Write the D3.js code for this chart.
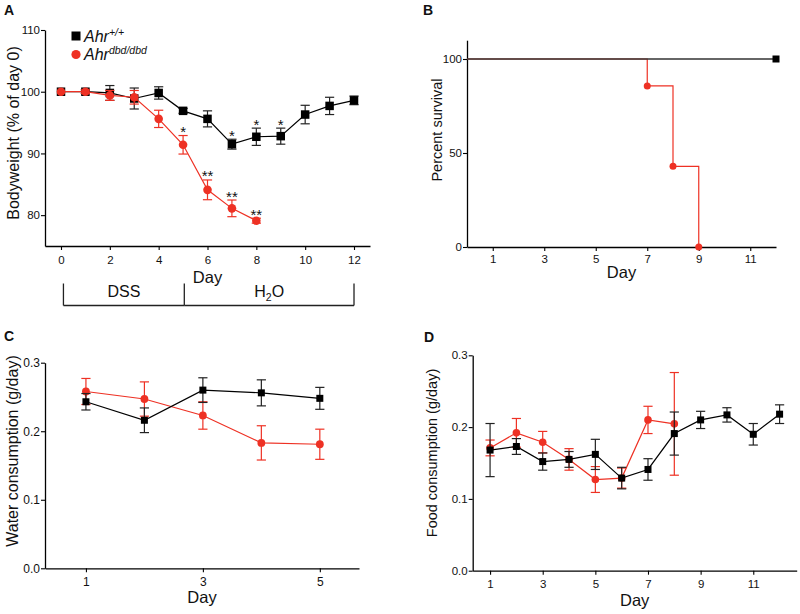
<!DOCTYPE html>
<html>
<head>
<meta charset="utf-8">
<script src="https://cdn.jsdelivr.net/npm/d3@7"></script>
<style>
  html, body { margin: 0; padding: 0; background: #fff; }
  svg { display: block; font-family: "Liberation Sans", Arial, Helvetica, sans-serif; }
</style>
</head>
<body>
<svg id="chart" width="800" height="614"></svg>
<script>
// ---------------- DATA ----------------
// Panel A: bodyweight (% of day 0)
const daysWT_A = [0,1,2,3,4,5,6,7,8,9,10,11,12];
const bwWT     = [100,100,99.8,98.9,99.8,96.9,95.6,91.5,92.7,92.8,96.3,97.7,98.6];
const bwWTerr  = [0.2,0.3,1.2,1.7,1.0,0.4,1.3,0.8,1.4,1.3,1.5,1.4,0.7];
const daysKO_A = [0,1,2,3,4,5,6,7,8];
const bwKO     = [100,100,99.4,99.1,95.6,91.4,84.1,81.1,79.1];
const bwKOerr  = [0.2,0.3,0.8,1.1,1.4,1.5,1.6,1.35,0.4];
const starsA = [
  {series: "KO", day: 5, label: "*"},
  {series: "KO", day: 6, label: "**"},
  {series: "KO", day: 7, label: "**"},
  {series: "KO", day: 8, label: "**"},
  {series: "WT", day: 7, label: "*"},
  {series: "WT", day: 8, label: "*"},
  {series: "WT", day: 9, label: "*"}
];
const ticksA_x = [0,2,4,6,8,10,12];
const ticksA_y = [80,90,100,110];
const treatments = [ {label: "DSS", from: 0.1, to: 5.05}, {label: "H2O", from: 5.05, to: 12} ];

// Panel B: survival
const survDaysWT = [0, 12];
const survWT     = [100, 100];
const survDaysKO = [0, 7, 8, 9];
const survKO     = [100, 85.7, 42.9, 0];
const ticksB_x = [1,3,5,7,9,11];
const ticksB_y = [0,50,100];

// Panel C: water consumption
const daysC    = [1,2,3,4,5];
const waterWT  = [0.243,0.216,0.260,0.256,0.248];
const waterWTerr = [0.012,0.018,0.018,0.019,0.016];
const waterKO  = [0.258,0.247,0.223,0.183,0.181];
const waterKOerr = [0.019,0.025,0.020,0.025,0.022];
const ticksC_x = [1,3,5];
const ticksC_y = [0.0,0.1,0.2,0.3];

// Panel D: food consumption
const daysWT_D = [1,2,3,4,5,6,7,8,9,10,11,12];
const foodWT   = [0.168,0.173,0.152,0.155,0.162,0.129,0.141,0.191,0.210,0.217,0.190,0.218];
const foodWTerr= [0.037,0.011,0.012,0.011,0.021,0.015,0.015,0.030,0.012,0.010,0.015,0.013];
const daysKO_D = [1,2,3,4,5,6,7,8];
const foodKO   = [0.171,0.192,0.179,0.155,0.127,0.129,0.210,0.2045];
const foodKOerr= [0.011,0.020,0.015,0.015,0.018,0.014,0.019,0.0715];
const ticksD_x = [1,3,5,7,9,11];
const ticksD_y = [0.0,0.1,0.2,0.3];

// ---------------- STYLE ----------------
const RED = "#ee3124";
const BLK = "#000";
const svg = d3.select("#chart");

function zip(xs, ys, es) { return xs.map((x, i) => ({x: x, y: ys[i], e: es ? es[i] : 0})); }

function drawAxes(g, x, y, opt) {
  const ax = g.append("g").attr("transform", `translate(0,${y.range()[0]})`)
    .call(d3.axisBottom(x).tickValues(opt.xt).tickSize(4).tickSizeOuter(0).tickPadding(opt.xpad || 5)
      .tickFormat(opt.xf || d3.format("d")));
  const ay = g.append("g").attr("transform", `translate(${x.range()[0]},0)`)
    .call(d3.axisLeft(y).tickValues(opt.yt).tickSize(4).tickSizeOuter(0).tickPadding(1)
      .tickFormat(opt.yf || d3.format("d")));
  [ax, ay].forEach(a => {
    a.selectAll("path.domain").attr("stroke", "#000").attr("stroke-width", 1.3);
    a.selectAll(".tick line").attr("stroke", "#000").attr("stroke-width", 1.1);
    a.selectAll(".tick text").attr("fill", "#111").attr("font-size", opt.tfs || 11.5)
      .attr("font-family", '"Liberation Sans", Arial, sans-serif');
  });
  g.append("text").attr("x", (x.range()[0] + x.range()[1]) / 2).attr("y", opt.xlabY)
    .attr("text-anchor", "middle").attr("font-size", 16.5).attr("fill", "#111").text("Day");
  g.append("text").attr("transform", `translate(${opt.ylabX},${opt.ylabCY}) rotate(-90)`)
    .attr("text-anchor", "middle").attr("font-size", opt.ylabFs).attr("fill", "#111").text(opt.ylab);
}

function drawSeries(g, x, y, pts, color, shape, size) {
  const line = d3.line().x(d => x(d.x)).y(d => y(d.y));
  g.append("path").datum(pts).attr("d", line).attr("fill", "none")
    .attr("stroke", color).attr("stroke-width", 1.2);
  const eb = g.append("g").attr("stroke", color === BLK ? "#222" : color).attr("stroke-width", 1.2);
  const cw = 4.6;
  pts.filter(d => d.e > 0.0).forEach(d => {
    const yt = y(d.y + d.e), yb = y(d.y - d.e), xc = x(d.x);
    if (Math.abs(yb - yt) < 3) return;
    eb.append("line").attr("x1", xc).attr("x2", xc).attr("y1", yt).attr("y2", yb);
    eb.append("line").attr("x1", xc - cw).attr("x2", xc + cw).attr("y1", yt).attr("y2", yt);
    eb.append("line").attr("x1", xc - cw).attr("x2", xc + cw).attr("y1", yb).attr("y2", yb);
  });
  const m = g.append("g").attr("fill", color);
  if (shape === "square") {
    m.selectAll("rect").data(pts).join("rect")
      .attr("x", d => x(d.x) - size / 2).attr("y", d => y(d.y) - size / 2)
      .attr("width", size).attr("height", size);
  } else {
    m.selectAll("circle").data(pts).join("circle")
      .attr("cx", d => x(d.x)).attr("cy", d => y(d.y)).attr("r", size);
  }
}

function panelLetter(t, px, py) {
  svg.append("text").attr("x", px).attr("y", py).attr("font-size", 14).attr("font-weight", "bold")
    .attr("fill", "#111").text(t);
}

// ---------------- PANEL A ----------------
{
  const g = svg.append("g");
  const x = d3.scaleLinear().domain([-0.655, 12.655]).range([45, 370]);
  const y = d3.scaleLinear().domain([75, 110]).range([246, 30]);
  drawAxes(g, x, y, {xt: ticksA_x, yt: ticksA_y, xpad: 6, xlabY: 283, ylabX: 19, ylabCY: 133,
    ylabFs: 16, ylab: "Bodyweight (% of day 0)"});
  const wt = zip(daysWT_A, bwWT, bwWTerr), ko = zip(daysKO_A, bwKO, bwKOerr);
  drawSeries(g, x, y, wt, BLK, "square", 8.5);
  drawSeries(g, x, y, ko, RED, "circle", 4.3);
  starsA.forEach(s => {
    const arr = s.series === "KO" ? ko : wt;
    const d = arr.find(p => p.x === s.day);
    g.append("text").attr("x", x(d.x)).attr("y", y(d.y + d.e) + 1.5).attr("text-anchor", "middle")
      .attr("font-size", 15).attr("fill", "#111").text(s.label);
  });
  // legend
  g.append("rect").attr("x", 76 - 4.5).attr("y", 36 - 4.5).attr("width", 9).attr("height", 9).attr("fill", BLK);
  g.append("circle").attr("cx", 76).attr("cy", 54.5).attr("r", 4.6).attr("fill", RED);
  const l1 = g.append("text").attr("x", 84).attr("y", 41.5).attr("font-size", 16).attr("font-style", "italic").attr("fill", "#111");
  l1.append("tspan").text("Ahr");
  l1.append("tspan").attr("font-size", 10.5).attr("dy", -6).text("+/+");
  const l2 = g.append("text").attr("x", 84).attr("y", 60).attr("font-size", 16).attr("font-style", "italic").attr("fill", "#111");
  l2.append("tspan").text("Ahr");
  l2.append("tspan").attr("font-size", 10.5).attr("dy", -6).text("dbd/dbd");
  // treatment bracket
  const by0 = 283.5, by1 = 305.5;
  const br = g.append("g").attr("stroke", "#222").attr("stroke-width", 1.3);
  treatments.forEach(t => {
    br.append("line").attr("x1", x(t.from)).attr("x2", x(t.to)).attr("y1", by1).attr("y2", by1);
  });
  [treatments[0].from, treatments[0].to, treatments[1].to].forEach(v => {
    br.append("line").attr("x1", x(v)).attr("x2", x(v)).attr("y1", by0).attr("y2", by1);
  });
  treatments.forEach(t => {
    const tx = g.append("text").attr("x", (x(t.from) + x(t.to)) / 2).attr("y", 297)
      .attr("text-anchor", "middle").attr("font-size", 16).attr("fill", "#111");
    if (t.label === "H2O") {
      tx.append("tspan").text("H");
      tx.append("tspan").attr("font-size", 10.5).attr("dy", 4).text("2");
      tx.append("tspan").attr("dy", -4).text("O");
    } else tx.text(t.label);
  });
  panelLetter("A", 4, 15);
}

// ---------------- PANEL B ----------------
{
  const g = svg.append("g");
  const x = d3.scaleLinear().domain([0, 12]).range([467, 776]);
  const y = d3.scaleLinear().domain([0, 110]).range([247, 40.2]);
  drawAxes(g, x, y, {xt: ticksB_x, yt: ticksB_y, xpad: 4, xlabY: 278, ylabX: 442, ylabCY: 130,
    ylabFs: 14.5, ylab: "Percent survival"});
  const step = d3.line().curve(d3.curveStepAfter).x(d => x(d.x)).y(d => y(d.y));
  const wt = zip(survDaysWT, survWT), ko = zip(survDaysKO, survKO);
  g.append("path").datum(ko).attr("d", step).attr("fill", "none").attr("stroke", RED).attr("stroke-width", 1.2);
  g.append("path").datum(wt).attr("d", step).attr("fill", "none").attr("stroke", "#333").attr("stroke-width", 1.4);
  g.selectAll("circle.ko").data(ko.slice(1)).join("circle").attr("class", "ko")
    .attr("cx", d => x(d.x)).attr("cy", d => y(d.y)).attr("r", 3.5).attr("fill", RED);
  g.selectAll("rect.wt").data(wt.slice(1)).join("rect").attr("class", "wt")
    .attr("x", d => x(d.x) - 3.5).attr("y", d => y(d.y) - 3.5).attr("width", 7).attr("height", 7).attr("fill", BLK);
  panelLetter("B", 423, 14.5);
}

// ---------------- PANEL C ----------------
{
  const g = svg.append("g");
  const x = d3.scaleLinear().domain([0.3, 5.67]).range([45, 359]);
  const y = d3.scaleLinear().domain([0, 0.3]).range([568.3, 362.7]);
  drawAxes(g, x, y, {xt: ticksC_x, yt: ticksC_y, xf: d3.format("d"), yf: d3.format(".1f"), xpad: 5,
    xlabY: 603, ylabX: 18, ylabCY: 451, ylabFs: 16, ylab: "Water consumption (g/day)", tfs: 12});
  drawSeries(g, x, y, zip(daysC, waterKO, waterKOerr), RED, "circle", 3.9);
  drawSeries(g, x, y, zip(daysC, waterWT, waterWTerr), BLK, "square", 7);
  panelLetter("C", 4, 341);
}

// ---------------- PANEL D ----------------
{
  const g = svg.append("g");
  const x = d3.scaleLinear().domain([0.34, 12.65]).range([472.7, 796.7]);
  const y = d3.scaleLinear().domain([0, 0.3]).range([570.7, 355.3]);
  drawAxes(g, x, y, {xt: ticksD_x, yt: ticksD_y, yf: d3.format(".1f"), xpad: 5,
    xlabY: 606, ylabX: 437, ylabCY: 453, ylabFs: 14.5, ylab: "Food consumption (g/day)", tfs: 11.5});
  drawSeries(g, x, y, zip(daysKO_D, foodKO, foodKOerr), RED, "circle", 3.8);
  drawSeries(g, x, y, zip(daysWT_D, foodWT, foodWTerr), BLK, "square", 7);
  panelLetter("D", 424, 342);
}
</script>
</body>
</html>
